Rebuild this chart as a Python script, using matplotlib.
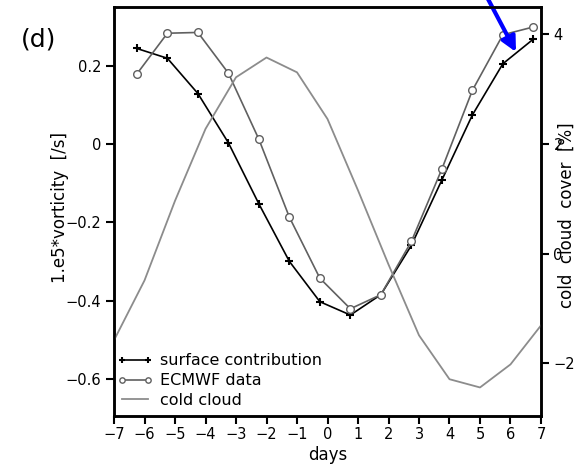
import numpy as np
import matplotlib
matplotlib.use("Agg")
import matplotlib.pyplot as plt

# composite days (vorticity series are offset by a quarter day)
days_vort = np.arange(-6.25, 7.0, 1.0)
surface = [0.244, 0.219, 0.129, 0.003, -0.153, -0.300, -0.403, -0.437,
           -0.385, -0.259, -0.092, 0.074, 0.205, 0.268]
ecmwf = [0.179, 0.283, 0.285, 0.181, 0.012, -0.187, -0.343, -0.421,
         -0.385, -0.249, -0.064, 0.137, 0.279, 0.299]

days_cloud = np.arange(-7, 8, 1)
cold_cloud = [-1.58, -0.49, 0.96, 2.27, 3.21, 3.57, 3.30, 2.45,
              1.15, -0.20, -1.49, -2.29, -2.44, -2.02, -1.31]

xticks = np.arange(-7, 8, 1)
yticks_left = [-0.6, -0.4, -0.2, 0, 0.2]
yticks_right = [-2, 0, 2, 4]

plt.rcParams['font.family'] = ['DejaVu Sans']
fs = 10.5      # tick labels
fl = 12        # axis labels / legend

fig = plt.figure(figsize=(5.77, 4.67), dpi=100)
ax = fig.add_axes([0.1976, 0.1092, 0.740, 0.8758])
ax2 = ax.twinx()

l1, = ax.plot(days_vort, surface, color='black', lw=1.2, marker='+',
              ms=6, mew=1.5, label='surface contribution')
l2, = ax.plot(days_vort, ecmwf, color='#606060', lw=1.2, marker='o',
              ms=5.5, mfc='white', mec='#606060', mew=1.0, label='ECMWF data')
l3, = ax2.plot(days_cloud, cold_cloud, color='#8c8c8c', lw=1.3, label='cold cloud')

ax.set_xlim(-7, 7)
ax.set_ylim(-0.695, 0.35)
ax2.set_ylim(-2.96, 4.49)

ax.set_xticks(xticks)
ax.set_xticklabels([str(t).replace('-', '\u2212') for t in xticks], fontsize=fs)
ax.set_yticks(yticks_left)
ax.set_yticklabels(['\u22120.6', '\u22120.4', '\u22120.2', '0', '0.2'], fontsize=fs)
ax2.set_yticks(yticks_right)
ax2.set_yticklabels(['\u22122', '0', '2', '4'], fontsize=fs)

for a in (ax, ax2):
    a.tick_params(direction='out', length=6, width=1.5, pad=3)
    for s in a.spines.values():
        s.set_linewidth(1.8)
ax.tick_params(axis='x', pad=2)

ax.set_xlabel('days', fontsize=fl, labelpad=3)
ax.set_ylabel('1.e5*vorticity  [/s]', fontsize=fl, va='center')
ax.yaxis.set_label_coords(-0.126, 0.511)
# in the original the right label sits on top of its tick labels
ax2.set_ylabel('cold  cloud  cover  [%]', fontsize=fl, va='center')
ax2.yaxis.set_label_coords(1.061, 0.49)

ax.legend([l1, l2, l3], ['surface contribution', 'ECMWF data', 'cold cloud'],
          loc='lower left', frameon=False, fontsize=11.5, handlelength=2.2,
          handletextpad=0.5, labelspacing=0.3, borderpad=0.2,
          borderaxespad=0.0, markerscale=0.7, numpoints=2,
          bbox_to_anchor=(0.0, 0.012))

fig.text(0.036, 0.9, '(d)', fontsize=18)

# blue arrow coming in from the top edge
ax.annotate('', xy=(516, 415), xytext=(479, 485),
            xycoords='figure pixels', textcoords='figure pixels',
            annotation_clip=False,
            arrowprops=dict(arrowstyle='-|>', color='blue', lw=3,
                            mutation_scale=22, shrinkA=0, shrinkB=0))

fig.savefig('out.png', dpi=100)
